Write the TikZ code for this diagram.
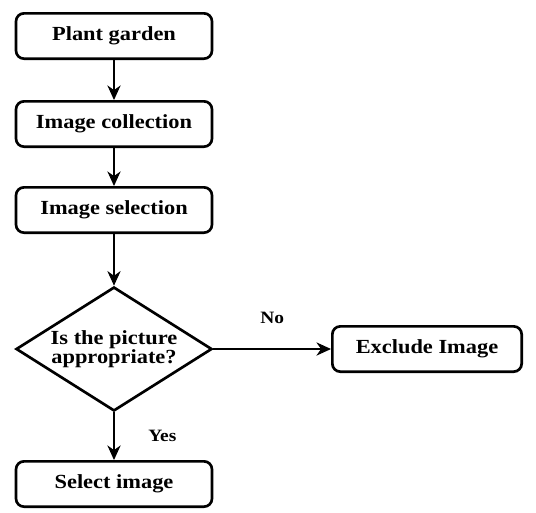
\documentclass[tikz,border=0pt]{standalone}
\usepackage{fontspec}
\setmainfont{Liberation Serif}[FakeStretch=1.12]
\usetikzlibrary{shapes.geometric,arrows.meta}

\begin{document}
\begin{tikzpicture}[x=0.75pt, y=-0.75pt,
stepbox/.style = {draw, line width = 2pt, rounded corners = 6pt, minimum width = 147pt, minimum height = 34pt, font = \bfseries\fontsize{15}{16}\selectfont},
decision/.style = {draw, diamond, line width = 2pt, minimum width = 147pt, minimum height = 93pt, inner sep = -20pt, align = center, font = \bfseries\fontsize{15}{14.5}\selectfont},
flow/.style = {-{Stealth[length = 11pt, width = 10pt]}, line width = 0.8pt},
lbl/.style = {font = \bfseries\fontsize{13}{14}\selectfont}
]
\useasboundingbox (0,0) rectangle (536,512);

%pasos principales
\node[stepbox] (plant) at (114,36) {Plant garden};
\node[stepbox] (collect) at (114,124) {Image collection};
\node[stepbox] (choose) at (114,210) {Image selection};
\node[decision] (check) at (114,349) {Is the picture\\appropriate?};
\node[stepbox, minimum width = 142pt] (exclude) at (427,349) {Exclude Image};
\node[stepbox] (keep) at (114,484) {Select image};

%conexiones
\draw[flow] (plant) -- (collect);
\draw[flow] (collect) -- (choose);
\draw[flow] (choose) -- (check);
\draw[flow] (check) -- node[lbl, above = 15pt] {No} (exclude);
\draw[flow] (check) -- node[lbl, right = 22pt] {Yes} (keep);
\end{tikzpicture}
\end{document}
